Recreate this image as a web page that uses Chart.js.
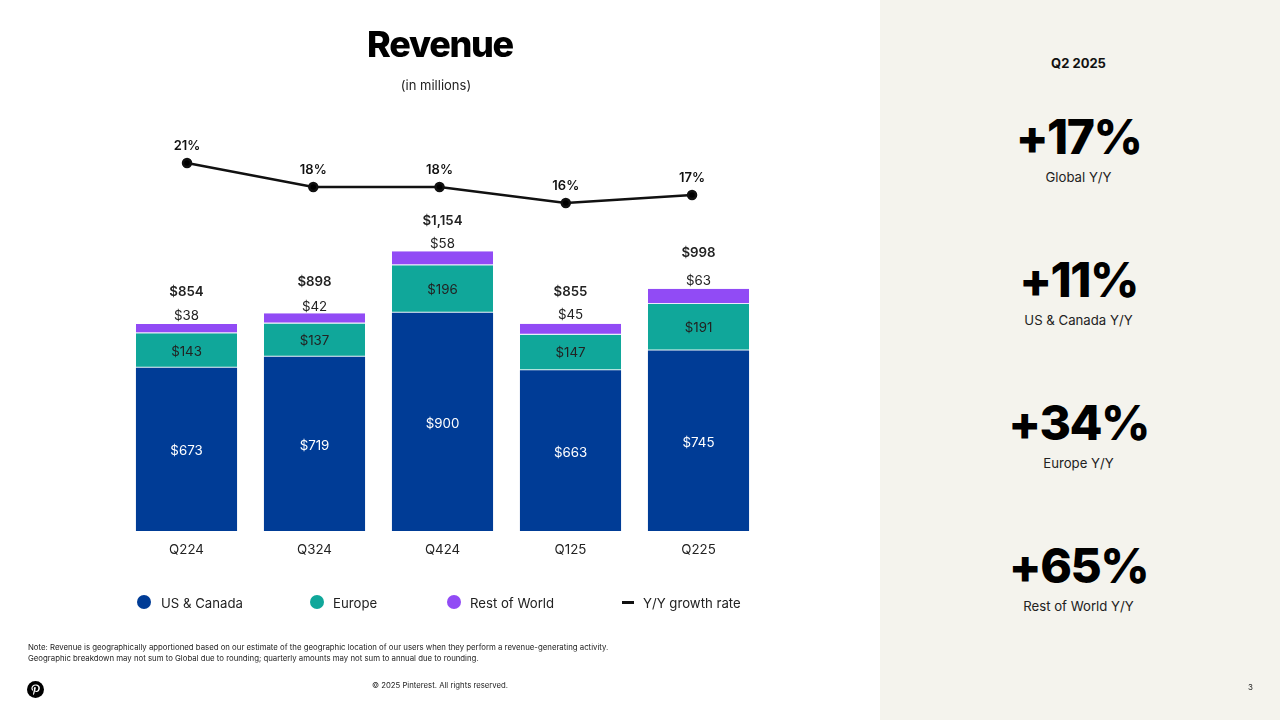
<!DOCTYPE html>
<html lang="en">
<head>
<meta charset="UTF-8">
<title>Revenue</title>
<script src="https://cdn.jsdelivr.net/npm/chart.js"></script>
<style>
  * { margin: 0; padding: 0; box-sizing: border-box; }
  body { width: 1280px; height: 720px; overflow: hidden; background: #fff; color: #222; font-family: Inter, sans-serif; position: relative; }
  #wrap { position: absolute; left: 0; top: 0; width: 880px; height: 720px; }
  #wrap canvas { position: absolute; left: 0; top: 0; }
  .side { position: absolute; left: 880px; top: 0; width: 400px; height: 720px; background: #f4f3ed; }
  .abs { position: absolute; white-space: nowrap; }
  .title { left: 0; width: 880px; top: 22px; text-align: center; font-size: 36px; font-weight: 800; letter-spacing: -1.3px; line-height: 44px; color: #000; }
  .sub { left: 0; width: 872px; top: 76px; text-align: center; font-size: 13px; line-height: 18px; }
  .note { left: 28px; top: 642px; font-size: 7.8px; line-height: 10.5px; }
  .copy { left: 0; width: 880px; top: 680px; text-align: center; font-size: 7.75px; line-height: 11px; }
  .page { left: 1248px; top: 682px; font-size: 8px; line-height: 11px; }
  .period { left: 880px; width: 397px; top: 54px; text-align: center; font-size: 13px; font-weight: 700; line-height: 18px; color: #111; }
  .big { left: 880px; width: 397px; text-align: center; font-size: 48px; font-weight: 800; letter-spacing: -1.5px; line-height: 56px; color: #000; }
  .cap { left: 880px; width: 397px; text-align: center; font-size: 13.2px; line-height: 18px; }
  .leg { top: 594px; font-size: 13.2px; line-height: 18px; }
  .dot { position: absolute; width: 14px; height: 14px; border-radius: 50%; top: 595px; }
  .dash { position: absolute; width: 12px; height: 3px; top: 601px; background: #111; }
  .pin { left: 27px; top: 680.5px; width: 17px; height: 17px; }
</style>
</head>
<body>
<div class="side"></div>
<div id="wrap">
  <canvas id="bars" width="880" height="720"></canvas>
  <canvas id="line" width="880" height="720"></canvas>
</div>
<div class="abs title">Revenue</div>
<div class="abs sub">(in millions)</div>
<div class="abs period">Q2 2025</div>
<div class="abs note">Note: Revenue is geographically apportioned based on our estimate of the geographic location of our users when they perform a revenue-generating activity.<br>Geographic breakdown may not sum to Global due to rounding; quarterly amounts may not sum to annual due to rounding.</div>
<div class="abs copy">© 2025 Pinterest. All rights reserved.</div>
<div class="abs page">3</div>
<svg class="abs pin" viewBox="0 0 24 24"><circle cx="12" cy="12" r="12" fill="#000"/><path fill="#fff" d="M12.3 4.8c-4 0-6.1 2.6-6.1 5.5 0 1.3.7 3 1.9 3.5.2.1.3 0 .3-.1l.3-1c0-.1 0-.2-.1-.3-.4-.5-.7-1.3-.7-2.1 0-2 1.6-4 4.2-4 2.3 0 3.9 1.5 3.9 3.7 0 2.5-1.3 4.2-2.9 4.2-.9 0-1.6-.8-1.4-1.6.3-1.1.8-2.2.8-3 0-.7-.4-1.3-1.2-1.3-.9 0-1.7 1-1.7 2.2 0 .8.3 1.4.3 1.4l-1.1 4.6c-.3 1.2 0 3.2 0 3.4 0 .1.1.1.2.1.1-.1 1.2-1.7 1.6-3.1l.6-2.3c.3.6 1.2 1.1 2.1 1.1 2.8 0 4.9-2.6 4.9-5.8 0-3.1-2.6-5.1-5-5.1z"/></svg>
<div id="stats"></div>
<div id="legend"></div>
<script>
const quarters = ['Q224', 'Q324', 'Q424', 'Q125', 'Q225'];
const usCanada = [673, 719, 900, 663, 745];
const europe = [143, 137, 196, 147, 191];
const restOfWorld = [38, 42, 58, 45, 63];
const totals = [854, 898, 1154, 855, 998];
const growth = [21, 18, 18, 16, 17];

const statValues = ['+17%', '+11%', '+34%', '+65%'];
const statLabels = ['Global Y/Y', 'US & Canada Y/Y', 'Europe Y/Y', 'Rest of World Y/Y'];
const statTops = [109, 252, 395, 538];

const legendLabels = ['US & Canada', 'Europe', 'Rest of World', 'Y/Y growth rate'];
const legendColors = ['#003c96', '#10a79a', '#914bf5', '#111111'];
const legendX = [137, 310, 447, 622];

// how far the labels above each bar sit over its top, px
const restLift = [8, 6, 7, 9, 8];
const totalLift = [32, 31, 30, 32, 36];

const FONT = 'Inter, sans-serif';

// right hand stat column
document.getElementById('stats').innerHTML = statValues.map((v, i) => `
  <div class="abs big" style="top:${statTops[i]}px">${v}</div>
  <div class="abs cap" style="top:${statTops[i] + 59}px">${statLabels[i].replace('&', '&amp;')}</div>
`).join('');

document.getElementById('legend').innerHTML = legendLabels.map((l, i) => `
  <div class="${i === 3 ? 'dash' : 'dot'}" style="left:${legendX[i]}px;background:${legendColors[i]}"></div>
  <div class="abs leg" style="left:${legendX[i] + (i === 3 ? 21 : i === 0 ? 24 : 23)}px">${l.replace('&', '&amp;')}</div>
`).join('');

const barLabels = {
  id: 'barLabels',
  afterDatasetsDraw(chart) {
    const ctx = chart.ctx;
    const y = chart.scales.y;
    ctx.save();
    ctx.textAlign = 'center';
    ctx.textBaseline = 'middle';
    chart.getDatasetMeta(0).data.forEach((bar, i) => {
      const x = bar.x;
      ctx.font = '13.3px ' + FONT;
      ctx.fillStyle = '#fff';
      ctx.fillText('$' + usCanada[i], x, y.getPixelForValue(usCanada[i] / 2) + 2);
      ctx.fillStyle = '#222';
      ctx.fillText('$' + europe[i], x, y.getPixelForValue(usCanada[i] + europe[i] / 2) + 1);
      const top = y.getPixelForValue(usCanada[i] + europe[i] + restOfWorld[i]);
      ctx.fillText('$' + restOfWorld[i], x, top - restLift[i]);
      ctx.font = '600 13.3px ' + FONT;
      ctx.fillText('$' + totals[i].toLocaleString('en-US'), x, top - totalLift[i]);
    });
    ctx.restore();
  }
};

const lineLabels = {
  id: 'lineLabels',
  afterDatasetsDraw(chart) {
    const ctx = chart.ctx;
    ctx.save();
    ctx.textAlign = 'center';
    ctx.textBaseline = 'middle';
    ctx.font = '600 13px ' + FONT;
    ctx.fillStyle = '#111';
    chart.getDatasetMeta(0).data.forEach((p, i) => {
      ctx.fillText(growth[i] + '%', p.x, p.y - 16.5);
    });
    ctx.restore();
  }
};

new Chart(document.getElementById('bars'), {
  type: 'bar',
  data: {
    labels: quarters,
    datasets: [
      { label: 'US & Canada', data: usCanada, backgroundColor: legendColors[0] },
      { label: 'Europe', data: europe, backgroundColor: legendColors[1], borderColor: '#dff5f3', borderWidth: { bottom: 1 }, borderSkipped: false },
      { label: 'Rest of World', data: restOfWorld, backgroundColor: legendColors[2], borderColor: '#efe6fd', borderWidth: { bottom: 1 }, borderSkipped: false }
    ]
  },
  options: {
    responsive: false,
    animation: false,
    devicePixelRatio: 1,
    layout: { padding: { left: 122.5, right: 117.5, top: 131, bottom: 151 } },
    datasets: { bar: { barPercentage: 0.79, categoryPercentage: 1 } },
    plugins: { legend: { display: false }, tooltip: { enabled: false } },
    scales: {
      x: {
        stacked: true,
        grid: { display: false, drawTicks: false },
        border: { display: false },
        ticks: { color: '#222', font: { family: FONT, size: 13.3 }, padding: 11, maxRotation: 0 }
      },
      y: { stacked: true, display: false, min: 0, max: 1650 }
    }
  },
  plugins: [barLabels]
});

// the growth line is spaced a little tighter than the bars, so it sits on its own chart
new Chart(document.getElementById('line'), {
  type: 'line',
  data: {
    datasets: [
      { label: 'Y/Y growth rate', data: growth.map((g, i) => ({ x: i, y: g })), borderColor: '#111', backgroundColor: '#000', borderWidth: 2.5, pointRadius: 4, pointHoverRadius: 4, tension: 0 }
    ]
  },
  options: {
    responsive: false,
    animation: false,
    devicePixelRatio: 1,
    layout: { padding: { left: 122.5, right: 117.5, top: 131, bottom: 189 } },
    plugins: { legend: { display: false }, tooltip: { enabled: false } },
    scales: {
      x: { type: 'linear', display: false, min: -0.511, max: 4.558 },
      y: { display: false, min: -25, max: 25 }
    }
  },
  plugins: [lineLabels]
});
</script>
</body>
</html>
